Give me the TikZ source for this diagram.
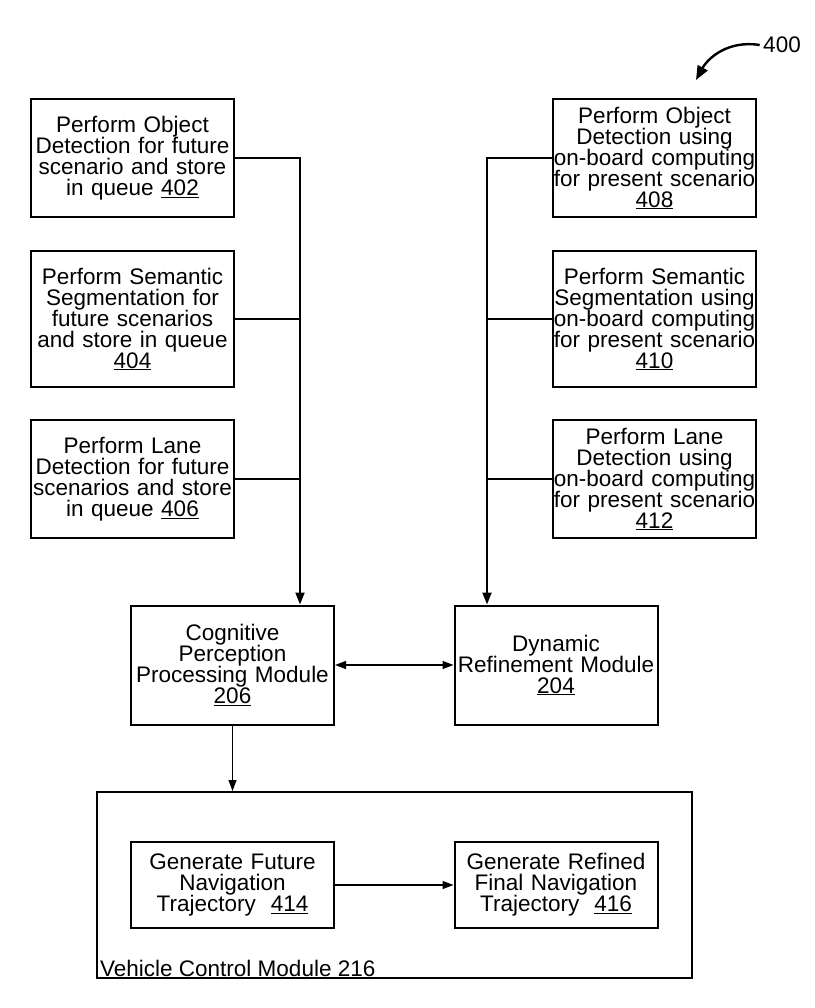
\documentclass[tikz,border=0pt]{standalone}
\usepackage{fontspec}
\setmainfont{Liberation Sans}
\usetikzlibrary{arrows.meta}
\begin{document}
\begin{tikzpicture}[
                x=1pt, y=-1pt,
                every node/.style={font=\fontsize{22.5}{21}\selectfont},
                box/.style={draw, line width=2pt, align=center, inner sep=0pt, text width=203pt, minimum width=203pt},
                link/.style={line width=2pt},
                arrow/.style={line width=2pt, -{Triangle[length=12pt,width=9pt]}},
                thin arrow/.style={line width=1.2pt, -{Triangle[length=11pt,width=8pt]}},
                both arrow/.style={line width=1.2pt, {Triangle[length=11pt,width=8pt]}-{Triangle[length=11pt,width=8pt]}},
            ]
            \useasboundingbox (0,0) rectangle (814,1008);
            % future scenario column
            \node[box, minimum height=118pt] (n402) at (132.5,158) {Perform Object\\Detection for future\\scenario and store\\in queue \underline{402}};
            \node[box, minimum height=136pt] (n404) at (132.5,319) {Perform Semantic\\Segmentation for\\future scenarios\\and store in queue\\\underline{404}};
            \node[box, minimum height=118pt] (n406) at (132.5,479) {Perform Lane\\Detection for future\\scenarios and store\\in queue \underline{406}};
            % present scenario column
            \node[box, minimum height=118pt] (n408) at (654.5,158) {Perform Object\\Detection using\\on-board computing\\for present scenario\\\underline{408}};
            \node[box, minimum height=136pt] (n410) at (654.5,319) {Perform Semantic\\Segmentation using\\on-board computing\\for present scenario\\\underline{410}};
            \node[box, minimum height=118pt] (n412) at (654.5,479) {Perform Lane\\Detection using\\on-board computing\\for present scenario\\\underline{412}};
            % modules
            \node[box, minimum height=119pt] (n206) at (232.5,665) {Cognitive\\Perception\\Processing Module\\\underline{206}};
            \node[box, minimum height=119pt] (n204) at (556,665) {Dynamic\\Refinement Module\\\underline{204}};
            \node[draw, line width=2pt, minimum width=595pt, minimum height=186pt, inner sep=0pt] (vcm) at (394.5,885) {};
            \node[anchor=base west, inner sep=0pt] (vcmlabel) at (100,976) {Vehicle Control Module 216};
            \node[box, minimum height=86pt] (n414) at (232.5,885) {Generate Future\\Navigation\\Trajectory\ \ \underline{414}};
            \node[box, minimum height=86pt] (n416) at (556,885) {Generate Refined\\Final Navigation\\Trajectory\ \ \underline{416}};
            % figure number
            \node (n400) at (782,45) {400};
            \coordinate (tip400) at (696,80);
            \coordinate (trunkL) at (300,0);
            \coordinate (trunkR) at (487,0);
            % connectors
            \draw[arrow] (n402.east) -| (n206.north -| trunkL);
            \draw[link] (n404.east) -- (n404.east -| trunkL);
            \draw[link] (n406.east) -- (n406.east -| trunkL);
            \draw[arrow] (n408.west) -| (n204.north -| trunkR);
            \draw[link] (n410.west) -- (n410.west -| trunkR);
            \draw[link] (n412.west) -- (n412.west -| trunkR);
            \draw[both arrow] (n206.east) -- (n204.west);
            \draw[thin arrow] (n206.south) -- (n206.south |- vcm.north);
            \draw[thin arrow] (n414.east) -- (n416.west);
            \draw[line width=2.4pt, -{Triangle[length=14pt,width=11pt]}] (n400.west) .. controls (728,40) and (708,58) .. (tip400);
            \end{tikzpicture}
\end{document}
